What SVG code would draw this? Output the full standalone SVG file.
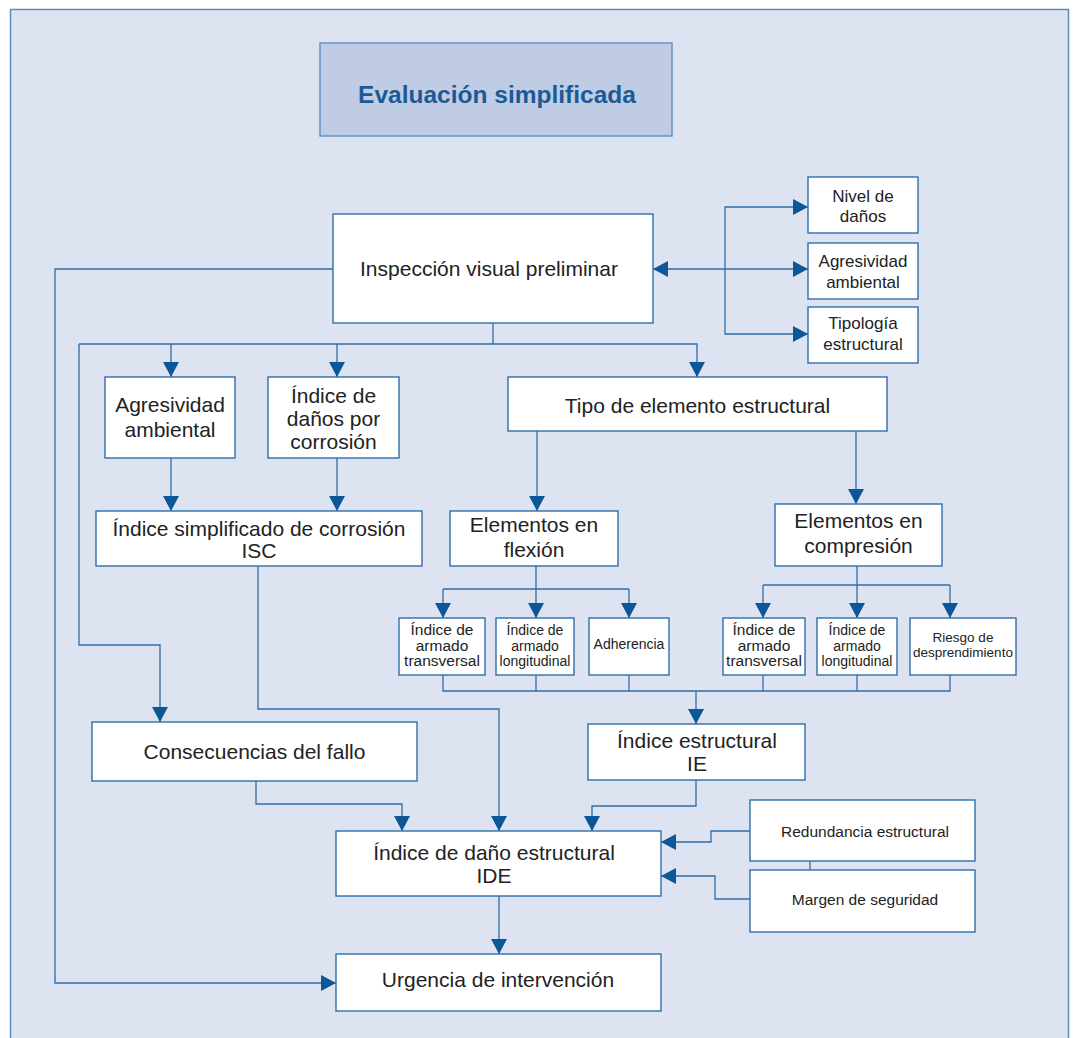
<svg xmlns="http://www.w3.org/2000/svg" width="1073" height="1038" viewBox="0 0 1073 1038">
<defs>
<marker id="ah" markerUnits="userSpaceOnUse" markerWidth="15" markerHeight="16" refX="15" refY="8" orient="auto-start-reverse" viewBox="0 0 15 16">
<path d="M0,0 L15,8 L0,16 z" fill="#0b5797"/>
</marker>
<style>
.box{fill:#ffffff;stroke:#2f6ea8;stroke-width:1.4}
.t{font-family:"Liberation Sans",Arial,sans-serif;fill:#222;text-anchor:middle}
.L{font-size:21px}
.M{font-size:17px}
.S{font-size:15.5px}
.XS{font-size:14px}
.R{font-size:15.5px}
.c{fill:none;stroke:#2f6ea8;stroke-width:1.3}
.a{marker-end:url(#ah)}
</style>
</defs>
<rect x="10.5" y="9.5" width="1058" height="1040" fill="#dde3f1" stroke="#5b8fc0" stroke-width="1.5"/>

<g id="title">
<rect x="320" y="43" width="352" height="93" fill="#bfcce3" stroke="#5b8fc4" stroke-width="1.4"/>
<text x="497" y="103" font-family="'Liberation Sans',Arial,sans-serif" font-size="24.5" font-weight="bold" fill="#1b5a97" text-anchor="middle">Evaluación simplificada</text>
</g>

<g id="connectors">
<line class="c" x1="653" y1="269" x2="808" y2="269" marker-start="url(#ah)" marker-end="url(#ah)"/>
<polyline class="c" points="808,207 725,207 725,334 808,334" marker-start="url(#ah)" marker-end="url(#ah)"/>
<polyline class="c" points="333,269 55,269 55,983 336,983" marker-end="url(#ah)"/>
<polyline class="c" points="493,323 493,344"/>
<polyline class="c" points="79,344 697,344 697,377" marker-end="url(#ah)"/>
<line class="c a" x1="171" y1="344" x2="171" y2="377"/>
<line class="c a" x1="337" y1="344" x2="337" y2="377"/>
<polyline class="c a" points="79,344 79,645 160,645 160,722"/>
<line class="c a" x1="171" y1="458" x2="171" y2="511"/>
<line class="c a" x1="337" y1="458" x2="337" y2="511"/>
<polyline class="c a" points="258,566 258,709 499,709 499,831"/>
<line class="c a" x1="537" y1="431" x2="537" y2="511"/>
<line class="c a" x1="856" y1="431" x2="856" y2="504"/>
<line class="c" x1="536" y1="566" x2="536" y2="589"/>
<polyline class="c a" points="443,589 443,618"/>
<polyline class="c" points="443,589 629,589"/>
<line class="c a" x1="536" y1="589" x2="536" y2="618"/>
<line class="c a" x1="629" y1="589" x2="629" y2="618"/>
<line class="c" x1="857" y1="566" x2="857" y2="585"/>
<polyline class="c" points="763,585 950,585"/>
<line class="c a" x1="763" y1="585" x2="763" y2="618"/>
<line class="c a" x1="857" y1="585" x2="857" y2="618"/>
<line class="c a" x1="950" y1="585" x2="950" y2="618"/>
<polyline class="c" points="443,675 443,691 950,691 950,675"/>
<line class="c" x1="536" y1="675" x2="536" y2="691"/>
<line class="c" x1="629" y1="675" x2="629" y2="691"/>
<line class="c" x1="763" y1="675" x2="763" y2="691"/>
<line class="c" x1="857" y1="675" x2="857" y2="691"/>
<line class="c a" x1="696" y1="691" x2="696" y2="724"/>
<polyline class="c a" points="696,780 696,806 592,806 592,831"/>
<polyline class="c a" points="256,781 256,804 402,804 402,831"/>
<polyline class="c a" points="750,831 711,831 711,842 661,842"/>
<polyline class="c a" points="750,899 715,899 715,876 661,876"/>
<line class="c" x1="810" y1="861" x2="810" y2="870"/>
<line class="c a" x1="499" y1="896" x2="499" y2="954"/>
</g>

<g id="inspeccion"><rect class="box" x="333" y="214" width="320" height="109"/><text class="t L" x="489" y="276">Inspección visual preliminar</text></g>
<g id="nivel-danos"><rect class="box" x="808" y="177" width="110" height="56"/><text class="t M" x="863" y="202">Nivel de</text><text class="t M" x="863" y="222">daños</text></g>
<g id="agresividad-small"><rect class="box" x="808" y="243" width="110" height="56"/><text class="t M" x="863" y="267">Agresividad</text><text class="t M" x="863" y="288">ambiental</text></g>
<g id="tipologia"><rect class="box" x="808" y="307" width="110" height="56"/><text class="t M" x="863" y="329">Tipología</text><text class="t M" x="863" y="350">estructural</text></g>

<g id="agresividad"><rect class="box" x="105" y="377" width="130" height="81"/><text class="t L" x="170" y="412">Agresividad</text><text class="t L" x="170" y="437">ambiental</text></g>
<g id="indice-danos"><rect class="box" x="268" y="377" width="131" height="81"/><text class="t L" x="333.5" y="403">Índice de</text><text class="t L" x="333.5" y="426">daños por</text><text class="t L" x="333.5" y="449">corrosión</text></g>
<g id="tipo-elemento"><rect class="box" x="508" y="377" width="379" height="54"/><text class="t L" x="697.5" y="413">Tipo de elemento estructural</text></g>

<g id="isc"><rect class="box" x="96" y="511" width="326" height="55"/><text class="t L" x="259" y="536">Índice simplificado de corrosión</text><text class="t L" x="259" y="558">ISC</text></g>
<g id="flexion"><rect class="box" x="450" y="511" width="168" height="55"/><text class="t L" x="534" y="532">Elementos en</text><text class="t L" x="534" y="557">flexión</text></g>
<g id="compresion"><rect class="box" x="775" y="504" width="167" height="62"/><text class="t L" x="858.5" y="528">Elementos en</text><text class="t L" x="858.5" y="553">compresión</text></g>

<g id="f-transversal"><rect class="box" x="399" y="618" width="86" height="57"/><text class="t S" x="442" y="635">Índice de</text><text class="t S" x="442" y="651">armado</text><text class="t S" x="442" y="666">transversal</text></g>
<g id="f-longitudinal"><rect class="box" x="496" y="618" width="78" height="57"/><text class="t XS" x="535" y="635">Índice de</text><text class="t XS" x="535" y="651">armado</text><text class="t XS" x="535" y="666">longitudinal</text></g>
<g id="adherencia"><rect class="box" x="589" y="618" width="80" height="57"/><text class="t XS" x="629" y="649">Adherencia</text></g>
<g id="c-transversal"><rect class="box" x="723" y="618" width="82" height="57"/><text class="t S" x="764" y="635">Índice de</text><text class="t S" x="764" y="651">armado</text><text class="t S" x="764" y="666">transversal</text></g>
<g id="c-longitudinal"><rect class="box" x="817" y="618" width="80" height="57"/><text class="t XS" x="857" y="635">Índice de</text><text class="t XS" x="857" y="651">armado</text><text class="t XS" x="857" y="666">longitudinal</text></g>
<g id="riesgo"><rect class="box" x="910" y="618" width="106" height="57"/><text class="t" font-size="13.5" x="963" y="642">Riesgo de</text><text class="t" font-size="13.5" x="963" y="657">desprendimiento</text></g>

<g id="consecuencias"><rect class="box" x="92" y="722" width="325" height="59"/><text class="t L" x="254.5" y="759">Consecuencias del fallo</text></g>
<g id="ie"><rect class="box" x="588" y="724" width="217" height="56"/><text class="t L" x="697" y="748">Índice estructural</text><text class="t L" x="697" y="771">IE</text></g>
<g id="redundancia"><rect class="box" x="750" y="800" width="225" height="61"/><text class="t R" x="865" y="837">Redundancia estructural</text></g>
<g id="margen"><rect class="box" x="750" y="870" width="225" height="62"/><text class="t R" x="865" y="905">Margen de seguridad</text></g>
<g id="ide"><rect class="box" x="336" y="831" width="325" height="65"/><text class="t L" x="494" y="860">Índice de daño estructural</text><text class="t L" x="494" y="883">IDE</text></g>
<g id="urgencia"><rect class="box" x="336" y="954" width="325" height="57"/><text class="t L" x="498" y="987">Urgencia de intervención</text></g>
</svg>
